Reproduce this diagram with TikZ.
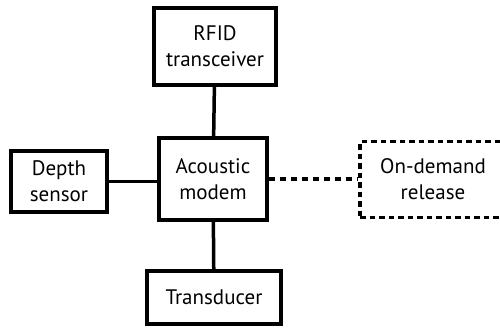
\documentclass[tikz,border=0pt]{standalone}
\usepackage{fontspec}
\setmainfont{PT Sans}
\usepackage{tikz}
\usetikzlibrary{calc}

\tikzset{
  unit/.style={draw, line width=3.5pt, align=center, inner sep=0pt, font=\fontsize{21}{26}\selectfont},
  optunit/.style={unit, dash pattern=on 5.5pt off 4pt},
}

\begin{document}
\begin{tikzpicture}[x=1pt,y=-1pt]
\clip (0,0) rectangle (500,327);

\node[unit, minimum width=122, minimum height=77] (rfid) at (215, 46.5) {RFID\\transceiver};
\node[unit, minimum width=108, minimum height=82] (modem) at (213, 179) {Acoustic\\modem};
\node[unit, minimum width=96, minimum height=61] (depth) at (59, 181.5) {Depth\\sensor};
\node[unit, minimum width=134, minimum height=53] (transducer) at (214, 297.5) {Transducer};
\node[optunit, minimum width=146, minimum height=76] (release) at (433, 179.5) {On-demand\\release};

\draw[line width=3.5pt] (rfid) -- (modem);
\draw[line width=3.5pt] (modem) -- (transducer);
\draw[line width=3.5pt] (depth.east) -- (depth.east -| modem.west);
\draw[line width=3.5pt, dash pattern=on 6pt off 5pt] (modem.east) -- (modem.east -| release.west);
\end{tikzpicture}
\end{document}
